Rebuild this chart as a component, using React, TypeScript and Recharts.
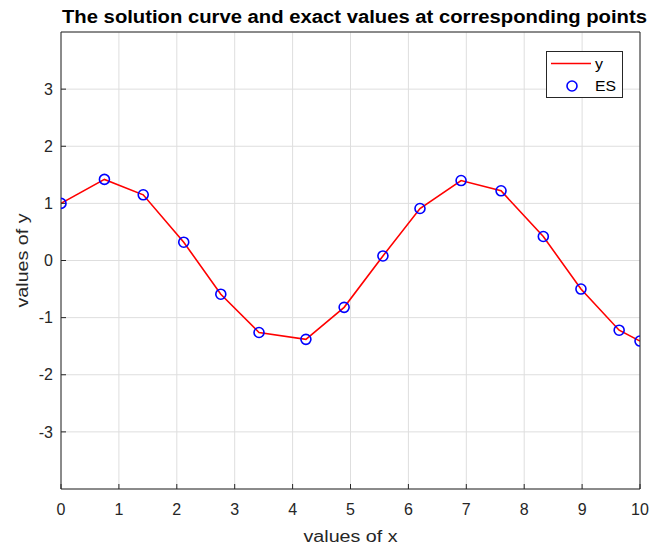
import React from "react";
import {
  ComposedChart,
  Line,
  Scatter,
  XAxis,
  YAxis,
  CartesianGrid,
  Legend,
  Label,
} from "recharts";

// values
const xValues = [0, 0.75, 1.42, 2.12, 2.76, 3.42, 4.23, 4.89, 5.56, 6.2, 6.91, 7.6, 8.33, 8.98, 9.64, 10];
const yValues = [1.0, 1.42, 1.15, 0.32, -0.59, -1.26, -1.38, -0.82, 0.08, 0.91, 1.4, 1.22, 0.42, -0.5, -1.22, -1.41];
const esValues = [1.0, 1.42, 1.15, 0.32, -0.59, -1.26, -1.38, -0.82, 0.08, 0.91, 1.4, 1.22, 0.42, -0.5, -1.22, -1.41];
const xTicks = [0, 1, 2, 3, 4, 5, 6, 7, 8, 9, 10];
const yTicks = [-3, -2, -1, 0, 1, 2, 3];
const legendOrder = ["y", "es"];

const FONT = '"Liberation Sans", Arial, Helvetica, sans-serif';
const AXIS = "#262626";
const RED = "#ff0000";
const BLUE = "#0000ff";

const data = xValues.map((x, i) => ({ x, y: yValues[i], es: esValues[i] }));

// eslint-disable-next-line @typescript-eslint/no-explicit-any
const renderTitle = (props: any) => {
  const vb = props.viewBox;
  return (
    <text
      x={vb.x + 1}
      y={vb.y + 22.7}
      fontFamily={FONT}
      fontSize={18}
      fontWeight="bold"
      fill="#000"
      textLength={585}
      lengthAdjust="spacingAndGlyphs"
    >
      The solution curve and exact values at corresponding points
    </text>
  );
};

// eslint-disable-next-line @typescript-eslint/no-explicit-any
const renderXLabel = (props: any) => {
  const vb = props.viewBox;
  return (
    <text
      x={vb.x + vb.width / 2}
      y={vb.y + 52.7}
      textAnchor="middle"
      fontFamily={FONT}
      fontSize={16}
      fill={AXIS}
      textLength={94}
      lengthAdjust="spacingAndGlyphs"
    >
      values of x
    </text>
  );
};

// eslint-disable-next-line @typescript-eslint/no-explicit-any
const renderYLabel = (props: any) => {
  const vb = props.viewBox;
  const cx = vb.x + 28;
  const cy = vb.y + vb.height / 2;
  return (
    <text
      x={cx}
      y={cy}
      transform={`rotate(-90 ${cx} ${cy})`}
      textAnchor="middle"
      fontFamily={FONT}
      fontSize={16}
      fill={AXIS}
      textLength={94}
      lengthAdjust="spacingAndGlyphs"
    >
      values of y
    </text>
  );
};

// eslint-disable-next-line @typescript-eslint/no-explicit-any
const renderLegend = (props: any) => {
  // eslint-disable-next-line @typescript-eslint/no-explicit-any
  const payload = [...(props.payload || [])].sort(
    (a: any, b: any) => legendOrder.indexOf(a.dataKey) - legendOrder.indexOf(b.dataKey)
  );
  return (
    <svg width={77} height={47} style={{ display: "block" }}>
      <rect x={0.5} y={0.5} width={76} height={46} fill="#fff" stroke={AXIS} strokeWidth={1} />
      {/* eslint-disable-next-line @typescript-eslint/no-explicit-any */}
      {payload.map((entry: any, i: number) => {
        const rowY = i === 0 ? 12.5 : 35;
        return (
          <g key={i}>
            {entry.dataKey === "y" ? (
              <line x1={5} x2={45} y1={rowY} y2={rowY} stroke={RED} strokeWidth={1.5} />
            ) : (
              <circle cx={26} cy={rowY} r={5} fill="none" stroke={BLUE} strokeWidth={1.6} />
            )}
            <text
              x={49}
              y={rowY + 5}
              fontFamily={FONT}
              fontSize={15}
              fill="#000"
              textLength={entry.value.length > 1 ? 21 : 8}
              lengthAdjust="spacingAndGlyphs"
            >
              {entry.value}
            </text>
          </g>
        );
      })}
    </svg>
  );
};

// eslint-disable-next-line @typescript-eslint/no-explicit-any
const renderCircle = (props: any) => {
  const { cx, cy } = props;
  if (cx === undefined || cy === undefined) return <g />;
  return <circle cx={cx} cy={cy} r={5} fill="none" stroke={BLUE} strokeWidth={1.6} />;
};

export default function App() {
  const tickStyle = { fontFamily: FONT, fontSize: 16, fill: AXIS };
  return (
    <div style={{ position: "absolute", left: 0, top: 0, background: "#fff" }}>
      <ComposedChart width={661} height={546} data={data} margin={{ top: 0, right: 0, bottom: 0, left: 0 }}>
        <CartesianGrid stroke="#dedede" strokeWidth={1} />
        <XAxis
          dataKey="x"
          type="number"
          domain={[0, 10]}
          ticks={xTicks}
          interval={0}
          height={57}
          tick={tickStyle}
          tickSize={-5}
          tickMargin={20}
          axisLine={{ stroke: AXIS }}
          tickLine={{ stroke: AXIS }}
          allowDataOverflow
        >
          <Label content={renderXLabel} />
        </XAxis>
        <XAxis
          xAxisId="top"
          orientation="top"
          type="number"
          domain={[0, 10]}
          ticks={xTicks}
          interval={0}
          height={32}
          tick={false}
          tickSize={-5}
          axisLine={{ stroke: AXIS }}
          tickLine={{ stroke: AXIS }}
        >
          <Label content={renderTitle} />
        </XAxis>
        <YAxis
          type="number"
          domain={[-4, 4]}
          ticks={yTicks}
          interval={0}
          width={61}
          tick={tickStyle}
          tickSize={-5}
          tickMargin={13}
          axisLine={{ stroke: AXIS }}
          tickLine={{ stroke: AXIS }}
          allowDataOverflow
        >
          <Label content={renderYLabel} />
        </YAxis>
        <YAxis
          yAxisId="right"
          orientation="right"
          type="number"
          domain={[-4, 4]}
          ticks={yTicks}
          interval={0}
          width={21}
          tick={false}
          tickSize={-5}
          axisLine={{ stroke: AXIS }}
          tickLine={{ stroke: AXIS }}
        />
        <Legend
          layout="vertical"
          align="center"
          verticalAlign="middle"
          wrapperStyle={{ position: "absolute", left: 546, top: 51, width: 77, height: 47 }}
          content={renderLegend}
        />
        <Line
          type="linear"
          dataKey="y"
          name="y"
          stroke={RED}
          strokeWidth={1.6}
          dot={false}
          activeDot={false}
          isAnimationActive={false}
        />
        <Scatter
          dataKey="es"
          name="ES"
          fill="none"
          stroke={BLUE}
          shape={renderCircle}
          isAnimationActive={false}
        />
      </ComposedChart>
    </div>
  );
}
